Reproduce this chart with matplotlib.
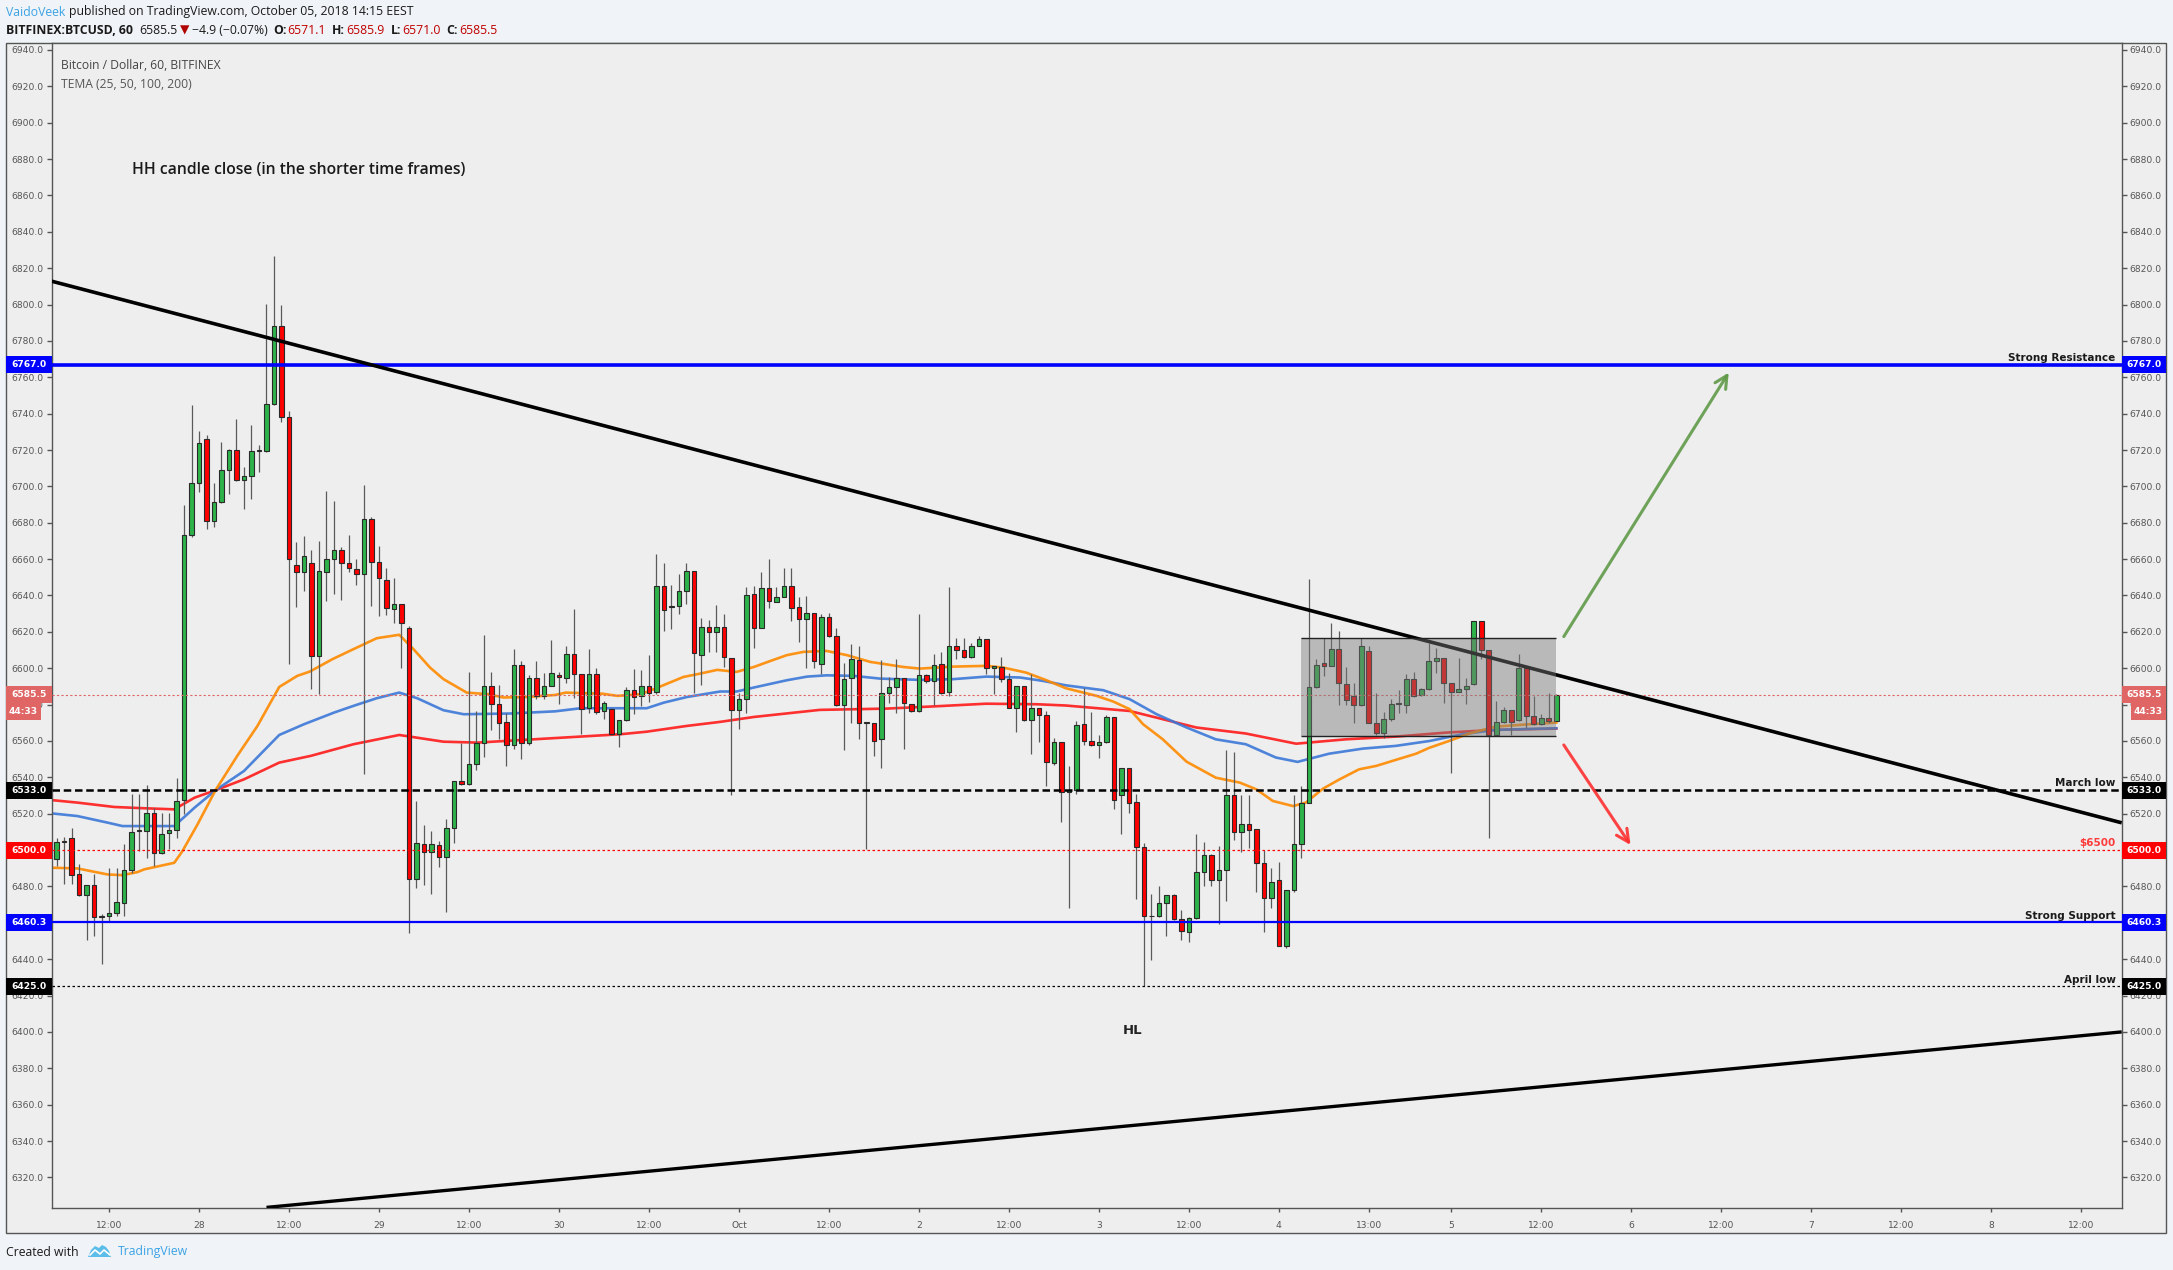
import numpy as np
import matplotlib
matplotlib.use("Agg")
import matplotlib.pyplot as plt
from matplotlib.patches import Rectangle, Polygon
from matplotlib.transforms import blended_transform_factory

# hourly BITFINEX BTCUSD candles, first bar = Sep 27 05:00 (hour -19 from Sep 28 00:00)
first_bar_hour = -19
opens = [6494.9, 6505.0, 6506.4, 6486.6, 6475.1, 6480.7, 6463.3, 6463.5, 6465.3, 6470.7,
         6488.8, 6510.5, 6510.5, 6520.6, 6498.2, 6509.2, 6510.9, 6527.4, 6673.3, 6701.9,
         6726.1, 6681.2, 6691.3, 6709.1, 6720.1, 6703.6, 6705.8, 6719.7, 6719.3, 6745.4,
         6788.3, 6738.4, 6657.0, 6652.7, 6657.9, 6606.5, 6652.7, 6660.1, 6665.0, 6657.9,
         6654.6, 6651.8, 6682.1, 6658.2, 6648.5, 6632.5, 6635.3, 6622.1, 6483.9, 6503.1,
         6498.9, 6502.6, 6496.2, 6512.3, 6537.8, 6536.2, 6547.2, 6559.1, 6590.1, 6580.2,
         6570.3, 6557.8, 6601.7, 6558.7, 6594.5, 6584.9, 6590.1, 6596.2, 6594.9, 6607.7,
         6597.1, 6578.0, 6597.1, 6576.5, 6577.8, 6563.7, 6571.4, 6587.9, 6584.8, 6590.1,
         6587.2, 6645.1, 6633.8, 6634.1, 6642.2, 6653.2, 6607.2, 6622.9, 6620.0, 6622.9,
         6605.9, 6577.1, 6582.9, 6640.7, 6622.0, 6644.0, 6636.5, 6639.1, 6645.1, 6633.4,
         6627.0, 6630.3, 6602.2, 6627.9, 6617.6, 6579.6, 6594.9, 6604.4, 6569.7, 6569.7,
         6560.9, 6586.2, 6589.7, 6594.5, 6580.5, 6576.5, 6596.1, 6593.0, 6602.2, 6587.0,
         6612.1, 6609.9, 6606.2, 6612.1, 6616.0, 6600.1, 6600.7, 6594.0, 6578.0, 6590.1,
         6571.4, 6578.3, 6574.1, 6547.7, 6559.6, 6532.2, 6532.9, 6569.2, 6559.8, 6557.6,
         6559.3, 6573.2, 6530.1, 6545.0, 6526.4, 6501.7, 6463.5, 6463.5, 6470.7, 6475.1,
         6461.9, 6455.1, 6462.4, 6488.1, 6497.1, 6483.3, 6488.8, 6530.1, 6509.9, 6514.5,
         6511.4, 6493.0, 6473.4, 6483.3, 6447.2, 6477.8, 6503.1, 6526.1, 6589.9, 6602.8,
         6601.3, 6610.5, 6591.2, 6584.8, 6579.6, 6609.6, 6570.1, 6564.2, 6571.9, 6580.2,
         6580.0, 6594.0, 6585.1, 6588.5, 6603.9, 6605.5, 6591.8, 6587.0, 6588.8, 6591.2,
         6625.7, 6609.9, 6563.3, 6570.7, 6576.9, 6571.4, 6600.0, 6573.8, 6569.2, 6572.5,
         6571.1]
highs = [6506.8, 6507.0, 6512.3, 6492.1, 6481.0, 6487.0, 6465.0, 6490.3, 6490.3, 6503.1,
         6530.7, 6530.7, 6535.8, 6523.3, 6520.6, 6520.6, 6539.8, 6690.0, 6745.0, 6730.2,
         6728.5, 6701.9, 6724.3, 6720.6, 6737.1, 6710.9, 6733.5, 6723.0, 6800.4, 6826.5,
         6799.5, 6741.2, 6669.2, 6672.5, 6665.2, 6670.2, 6697.3, 6692.2, 6666.9, 6673.5,
         6660.1, 6701.0, 6683.4, 6667.4, 6655.1, 6649.6, 6635.3, 6623.4, 6527.0, 6513.8,
         6510.5, 6505.0, 6517.3, 6537.8, 6559.1, 6598.0, 6576.5, 6618.4, 6598.0, 6590.9,
         6575.6, 6610.7, 6604.0, 6596.4, 6604.0, 6597.6, 6615.6, 6598.0, 6612.3, 6632.5,
         6597.1, 6610.8, 6600.4, 6582.0, 6578.0, 6571.4, 6589.7, 6599.5, 6598.9, 6607.3,
         6662.7, 6657.8, 6645.9, 6651.7, 6658.0, 6653.2, 6627.5, 6626.6, 6634.9, 6629.7,
         6605.9, 6586.6, 6644.8, 6645.3, 6653.0, 6660.0, 6644.8, 6655.2, 6655.2, 6639.3,
         6639.8, 6630.3, 6629.7, 6630.3, 6622.0, 6603.1, 6613.2, 6612.3, 6570.0, 6570.0,
         6604.6, 6595.2, 6605.3, 6594.5, 6580.5, 6629.7, 6596.7, 6607.7, 6609.0, 6644.8,
         6616.9, 6616.9, 6614.1, 6617.8, 6616.0, 6601.3, 6606.2, 6597.6, 6590.1, 6590.1,
         6597.1, 6578.4, 6576.5, 6561.8, 6559.6, 6546.3, 6571.0, 6589.4, 6576.0, 6563.3,
         6574.3, 6573.2, 6545.0, 6545.0, 6530.7, 6504.0, 6475.6, 6480.2, 6475.1, 6475.6,
         6466.8, 6463.1, 6509.0, 6504.6, 6498.0, 6502.2, 6554.9, 6554.0, 6530.1, 6530.1,
         6511.4, 6499.8, 6489.9, 6493.4, 6477.8, 6530.1, 6535.2, 6649.0, 6605.0, 6616.5,
         6625.0, 6620.6, 6600.7, 6591.8, 6616.5, 6612.1, 6586.3, 6576.0, 6583.3, 6587.9,
         6597.1, 6598.0, 6589.4, 6614.1, 6611.0, 6605.5, 6592.1, 6605.9, 6594.5, 6625.7,
         6625.7, 6609.9, 6582.0, 6578.9, 6576.9, 6607.7, 6600.0, 6584.8, 6574.7, 6586.3,
         6585.9]
lows = [6491.2, 6481.5, 6481.5, 6475.0, 6450.3, 6452.7, 6437.1, 6460.9, 6464.0, 6464.0,
        6487.5, 6499.5, 6495.8, 6491.2, 6498.0, 6500.4, 6506.8, 6520.0, 6672.0, 6696.8,
        6676.4, 6677.9, 6691.0, 6695.9, 6703.0, 6687.4, 6693.0, 6707.8, 6719.0, 6745.0,
        6735.3, 6602.6, 6633.5, 6642.6, 6588.5, 6585.8, 6636.8, 6640.8, 6637.5, 6653.1,
        6645.8, 6542.0, 6634.0, 6628.9, 6629.4, 6624.7, 6600.4, 6454.5, 6479.3, 6480.6,
        6475.6, 6490.7, 6466.1, 6504.1, 6535.6, 6536.0, 6544.1, 6551.4, 6566.1, 6560.9,
        6546.4, 6555.4, 6550.3, 6558.0, 6583.3, 6583.3, 6590.0, 6580.6, 6592.1, 6583.8,
        6564.0, 6575.6, 6574.7, 6572.3, 6563.5, 6556.9, 6571.0, 6574.7, 6579.3, 6581.5,
        6585.7, 6620.5, 6621.8, 6629.7, 6635.2, 6586.6, 6590.6, 6609.2, 6609.2, 6600.9,
        6530.1, 6566.4, 6575.2, 6611.0, 6622.0, 6633.0, 6636.5, 6639.0, 6625.7, 6614.7,
        6600.4, 6600.4, 6597.1, 6617.0, 6579.0, 6555.2, 6570.1, 6561.3, 6500.4, 6551.7,
        6545.3, 6581.1, 6575.6, 6555.8, 6576.0, 6576.0, 6592.1, 6579.6, 6585.7, 6584.8,
        6605.3, 6605.5, 6605.9, 6612.0, 6596.7, 6585.7, 6592.7, 6577.9, 6565.1, 6571.0,
        6552.7, 6559.6, 6535.2, 6547.0, 6515.6, 6468.3, 6530.7, 6557.6, 6557.0, 6550.8,
        6559.0, 6522.4, 6508.6, 6520.6, 6472.9, 6425.2, 6439.8, 6463.0, 6452.7, 6461.7,
        6450.3, 6449.6, 6462.0, 6480.2, 6480.2, 6459.5, 6471.9, 6505.3, 6499.1, 6500.9,
        6477.1, 6455.1, 6468.3, 6447.0, 6445.9, 6477.0, 6495.4, 6526.0, 6589.0, 6595.8,
        6601.0, 6579.6, 6579.8, 6570.1, 6579.0, 6570.0, 6563.3, 6561.5, 6571.0, 6575.6,
        6575.6, 6584.0, 6585.0, 6588.0, 6597.6, 6581.1, 6542.6, 6587.0, 6580.6, 6591.0,
        6605.0, 6506.8, 6563.0, 6570.0, 6563.3, 6571.0, 6567.4, 6569.0, 6569.0, 6570.1,
        6571.0]
closes = [6504.6, 6504.6, 6486.1, 6475.1, 6480.7, 6463.3, 6463.4, 6465.5, 6471.2, 6488.8,
          6510.1, 6510.6, 6520.6, 6498.6, 6509.0, 6510.9, 6527.0, 6673.3, 6701.9, 6724.1,
          6681.2, 6691.3, 6709.1, 6720.1, 6703.6, 6705.8, 6719.2, 6719.8, 6745.4, 6788.3,
          6738.4, 6660.1, 6652.7, 6661.9, 6606.5, 6653.5, 6660.1, 6665.0, 6657.9, 6654.9,
          6651.8, 6682.1, 6658.2, 6649.6, 6633.1, 6635.3, 6624.8, 6483.9, 6504.0, 6498.9,
          6503.5, 6496.2, 6512.3, 6537.8, 6536.2, 6547.2, 6559.1, 6590.1, 6580.2, 6569.7,
          6557.8, 6601.7, 6558.7, 6594.5, 6584.8, 6590.1, 6597.3, 6595.2, 6607.7, 6597.1,
          6577.4, 6597.1, 6576.0, 6580.7, 6563.7, 6571.4, 6587.9, 6584.2, 6590.1, 6586.6,
          6645.1, 6631.9, 6633.9, 6642.2, 6653.2, 6608.6, 6622.9, 6620.0, 6622.9, 6606.2,
          6577.1, 6582.9, 6640.2, 6622.4, 6644.0, 6637.1, 6639.1, 6645.1, 6633.0, 6627.0,
          6630.6, 6604.0, 6627.9, 6617.6, 6579.6, 6593.9, 6604.9, 6569.7, 6569.8, 6560.0,
          6586.2, 6589.7, 6594.5, 6580.7, 6576.5, 6596.1, 6593.0, 6601.6, 6586.2, 6612.1,
          6609.9, 6606.2, 6612.1, 6616.0, 6600.4, 6601.1, 6594.0, 6578.0, 6590.1, 6571.4,
          6578.0, 6574.1, 6548.4, 6559.6, 6532.1, 6532.9, 6568.6, 6559.8, 6557.6, 6559.3,
          6573.2, 6527.4, 6545.0, 6525.7, 6501.7, 6463.5, 6463.6, 6470.7, 6475.1, 6461.9,
          6455.4, 6462.4, 6488.1, 6497.1, 6483.3, 6488.8, 6530.1, 6509.9, 6514.5, 6510.8,
          6493.0, 6473.4, 6482.6, 6447.2, 6477.8, 6503.1, 6526.1, 6589.9, 6601.9, 6601.3,
          6610.5, 6591.8, 6582.4, 6579.6, 6612.1, 6570.1, 6564.2, 6571.9, 6580.6, 6580.8,
          6594.0, 6584.8, 6588.5, 6603.9, 6605.5, 6591.8, 6587.0, 6588.8, 6590.1, 6625.7,
          6609.9, 6563.3, 6570.7, 6576.9, 6570.7, 6600.0, 6573.8, 6569.2, 6572.5, 6571.0,
          6585.5]

# TEMA lines (hour, price)
tema_orange_h = [-19.7, -16.2, -12.2, -10.2, -8.2, -7.3, -5.3, -3.3, -2.2, -0.2, 2.2, 5.1, 7.8,
                 10.7, 13.1, 14.8, 17.8, 20.6, 23.7, 26.7, 28.6, 30.8, 32.6, 35.7, 38.6, 40.6,
                 43.7, 47.5, 48.9, 53.8, 55.8, 58.9, 60.6, 64.6, 66.9, 69.1, 71.7, 74.0, 76.2,
                 78.4, 80.6, 83.7, 86.4, 89.5, 93.9, 96.1, 100.6, 105.0, 107.2, 110.3, 113.0,
                 115.6, 119.7, 121.9, 124.1, 125.9, 128.5, 131.7, 135.6, 138.8, 141.0, 143.2,
                 145.9, 147.6, 149.9, 152.1, 154.7, 157.0, 159.6, 162.3, 164.1, 166.7, 169.4,
                 172.9, 177.4, 181.0]
tema_orange_p = [6490.3, 6489.9, 6486.6, 6486.2, 6487.9, 6489.4, 6491.2, 6493.0, 6499.5, 6514.1,
                 6532.9, 6551.8, 6568.3, 6589.7, 6595.8, 6598.2, 6605.0, 6610.5, 6616.5, 6618.4,
                 6610.5, 6600.4, 6594.0, 6586.6, 6585.7, 6583.9, 6584.2, 6585.3, 6586.6, 6586.0,
                 6584.8, 6585.7, 6588.4, 6595.2, 6597.1, 6599.1, 6598.0, 6600.7, 6604.0, 6607.2,
                 6609.0, 6609.5, 6607.2, 6603.5, 6600.7, 6599.8, 6600.9, 6601.3, 6600.4, 6597.6,
                 6593.4, 6589.0, 6584.8, 6581.7, 6577.5, 6569.2, 6561.0, 6548.6, 6539.8, 6537.1,
                 6533.4, 6527.0, 6524.2, 6526.1, 6533.8, 6538.9, 6544.4, 6546.3, 6549.6, 6553.0,
                 6556.3, 6560.0, 6564.1, 6567.9, 6569.2, 6570.1]
tema_blue_h = [-19.7, -16.2, -12.2, -10.2, -7.3, -3.3, -0.6, 2.2, 6.0, 10.7, 14.0, 18.0, 20.6,
               23.7, 26.7, 29.1, 32.6, 35.3, 41.5, 47.5, 50.9, 59.7, 62.0, 65.1, 69.5, 71.7,
               74.0, 78.4, 81.1, 83.7, 87.3, 90.8, 96.1, 100.6, 105.0, 109.5, 112.6, 115.6,
               120.6, 124.1, 127.7, 131.7, 135.6, 139.6, 143.6, 146.5, 150.7, 155.2, 159.6,
               164.1, 168.5, 172.9, 181.0]
tema_blue_p = [6520.2, 6518.7, 6515.1, 6513.2, 6513.2, 6513.2, 6523.3, 6532.9, 6543.5, 6563.3,
               6569.2, 6575.6, 6579.3, 6583.5, 6586.6, 6583.5, 6576.9, 6574.7, 6575.1, 6576.3,
               6578.0, 6578.0, 6581.1, 6584.2, 6587.2, 6587.2, 6589.4, 6593.4, 6595.4, 6596.1,
               6595.8, 6594.3, 6593.6, 6594.0, 6595.4, 6594.9, 6593.0, 6590.6, 6587.9, 6583.0,
               6574.7, 6567.4, 6560.9, 6558.2, 6550.9, 6548.5, 6553.0, 6555.8, 6557.3, 6560.0,
               6563.7, 6566.1, 6567.0]
tema_red_h = [-19.7, -16.2, -11.3, -7.3, -3.3, -0.6, 2.2, 6.0, 10.7, 14.9, 20.6, 26.7, 32.6,
              37.1, 47.5, 56.2, 59.7, 65.1, 69.5, 74.0, 82.8, 91.7, 98.4, 105.0, 111.7, 115.6,
              124.1, 133.0, 139.6, 146.3, 152.9, 159.6, 166.3, 172.9, 181.0]
tema_red_p = [6527.5, 6526.1, 6523.7, 6523.0, 6522.4, 6528.8, 6532.9, 6538.9, 6548.1, 6551.8,
              6558.2, 6563.3, 6559.6, 6559.1, 6561.6, 6563.7, 6565.1, 6568.3, 6570.5, 6573.2,
              6577.1, 6577.8, 6579.1, 6580.5, 6580.2, 6579.5, 6576.5, 6567.4, 6564.1, 6558.5,
              6560.9, 6562.4, 6564.6, 6566.1, 6566.8]

# drawings
level_prices = [6767.0, 6533.0, 6500.0, 6460.3, 6425.0]
level_names = ["Strong Resistance", "March low", "$6500", "Strong Support", "April low"]
last_price = 6585.5
down_trend_h = [-19.7, 256.4]
down_trend_p = [6812.9, 6515.0]
up_trend_h = [9.0, 256.4]
up_trend_p = [6303.5, 6400.0]
range_box_h = [147.0, 180.9]
range_box_p = [6562.9, 6616.4]
bull_arrow = [(182.0, 6617.4), (204.0, 6762.6)]
bear_arrow = [(182.0, 6557.8), (190.9, 6502.8)]

time_ticks = [-12, 0, 12, 24, 36, 48, 60, 72, 84, 96, 108, 120, 132, 144, 156, 167, 179,
              191, 203, 215, 227, 239, 251]
time_labels = ["12:00", "28", "12:00", "29", "12:00", "30", "12:00", "Oct", "12:00", "2",
               "12:00", "3", "12:00", "4", "13:00", "5", "12:00", "6", "12:00", "7",
               "12:00", "8", "12:00"]

W, H = 2173, 1270
AX_L, AX_R, AX_T, AX_B = 51.5, 2121.7, 42.7, 1208.3
UP = "#2db34a"
DOWN = "#ff0000"
AXC = "#555555"
UI_FONT = ["Open Sans", "DejaVu Sans"]


def fx(px):
    return px / W


def fy(py):
    return 1 - py / H


fig = plt.figure(figsize=(W / 100, H / 100), dpi=100, facecolor="#f0f3f7")
fig.patches.append(Rectangle((fx(6), fy(1233)), fx(2166) - fx(6), fy(42.7) - fy(1233),
                             transform=fig.transFigure, fc="#eeeeee", ec=AXC, lw=1, zorder=-5))
ax = fig.add_axes([fx(AX_L), fy(AX_B), fx(AX_R) - fx(AX_L), fy(AX_T) - fy(AX_B)])
ax.set_zorder(1)
ax.set_facecolor("#eeeeee")
ax.set_xlim(-19.67, 256.4)
ax.set_ylim(6303, 6944)
for s in ax.spines.values():
    s.set_color(AXC)
    s.set_linewidth(1)

yt = np.arange(6320, 6941, 20)
ax.set_yticks(yt)
ax.set_yticklabels([f"{v:.1f}" for v in yt])
ax.tick_params(axis="y", which="both", left=True, right=True, labelleft=True, labelright=True,
               direction="out", length=3.5, width=1, color=AXC, labelsize=6.6,
               labelcolor=AXC, pad=2)
ax.set_xticks(time_ticks)
ax.set_xticklabels(time_labels)
ax.tick_params(axis="x", direction="out", length=3, width=1, color=AXC, labelsize=6.6,
               labelcolor=AXC, pad=6)

# TEMA lines
ax.plot(tema_red_h, tema_red_p, color="#ff1a1a", lw=1.9, alpha=0.9, zorder=2)
ax.plot(tema_blue_h, tema_blue_p, color="#3c78d8", lw=1.9, alpha=0.9, zorder=2)
ax.plot(tema_orange_h, tema_orange_p, color="#ff8a00", lw=1.9, alpha=0.9, zorder=2)

# candles
bar_h = np.arange(len(opens)) + first_bar_hour
for h, o, hi, lo, c in zip(bar_h, opens, highs, lows, closes):
    ax.vlines(h, lo, hi, color="#5a5a5a", lw=0.9, zorder=3)
    bottom = min(o, c)
    height = max(abs(c - o), 0.5)
    ax.add_patch(Rectangle((h - 0.31, bottom), 0.62, height, fc=UP if c >= o else DOWN,
                           ec="#2a2a2a", lw=0.8, zorder=3.5))

# horizontal levels
ax.axhline(level_prices[0], color="#0000ff", lw=2.6, zorder=4)
ax.axhline(level_prices[1], color="#000000", lw=1.8, ls=(0, (3, 1.5)), zorder=4)
ax.axhline(level_prices[2], color="#ff0000", lw=0.9, ls=(0, (2, 2)), zorder=4)
ax.axhline(level_prices[3], color="#0000ff", lw=1.6, zorder=4)
ax.axhline(level_prices[4], color="#000000", lw=0.9, ls=(0, (2, 2)), zorder=4)
ax.axhline(last_price, color="#e06666", lw=0.8, ls=(0, (2, 2)), zorder=4)

for p, name in zip(level_prices, level_names):
    col = "#ff3b3b" if name.startswith("$") else "#1a1a1a"
    ax.text(255.6, p + 0.9, name, ha="right", va="bottom", fontsize=7.5, fontweight="bold",
            color=col, zorder=6)

# trend lines
ax.plot(down_trend_h, down_trend_p, color="#000000", lw=2.6, zorder=4, solid_capstyle="butt")
ax.plot(up_trend_h, up_trend_p, color="#000000", lw=2.4, zorder=4, solid_capstyle="butt")

# consolidation box
ax.add_patch(Rectangle((range_box_h[0], range_box_p[0]), range_box_h[1] - range_box_h[0],
                       range_box_p[1] - range_box_p[0], fc="#7a7a7a", alpha=0.45,
                       ec="none", zorder=5))
ax.hlines(range_box_p, range_box_h[0], range_box_h[1], color="#222222", lw=1, zorder=5.1)

# arrows
ax.annotate("", xy=bull_arrow[1], xytext=bull_arrow[0],
            arrowprops=dict(arrowstyle="->,head_length=0.9,head_width=0.45", color="#5f9a48",
                            lw=2.2, alpha=0.9, shrinkA=0, shrinkB=0), zorder=6)
ax.annotate("", xy=bear_arrow[1], xytext=bear_arrow[0],
            arrowprops=dict(arrowstyle="->,head_length=0.9,head_width=0.45", color="#ff3030",
                            lw=2.2, alpha=0.9, shrinkA=0, shrinkB=0), zorder=6)

# annotations
ax.text(-8.9, 6874.1, "HH candle close (in the shorter time frames)", ha="left", va="center",
        fontsize=11.3, family=UI_FONT, fontweight="semibold", color="#1a1a1a", zorder=6)
ax.text(124.5, 6400.7, "HL", ha="center", va="center", fontsize=9.5, fontweight="bold",
        color="#222222", zorder=6)
ax.text(0.0045, 0.986, "Bitcoin / Dollar, 60, BITFINEX", transform=ax.transAxes,
        ha="left", va="top", fontsize=8.7, family=UI_FONT, color="#444444")
ax.text(0.0045, 0.970, "TEMA (25, 50, 100, 200)", transform=ax.transAxes, ha="left", va="top",
        fontsize=8.7, family=UI_FONT, color="#555555")

# price boxes on both axes
tr = blended_transform_factory(ax.transAxes, ax.transData)
axw = AX_R - AX_L
box_h = 17 / 1.818
boxes = [(level_prices[0], "#0000ff"), (last_price, "#e06666"), (level_prices[1], "#000000"),
         (level_prices[2], "#ff0000"), (level_prices[3], "#0000ff"), (level_prices[4], "#000000")]
for p, col in boxes:
    for x0, w in [(1.0, 44.3 / axw), (-45.5 / axw, 45.5 / axw)]:
        ax.add_patch(Rectangle((x0, p - box_h / 2), w, box_h, transform=tr, fc=col, ec="none",
                               clip_on=False, zorder=10))
        ax.text(x0 + w / 2, p, f"{p:.1f}", transform=tr, ha="center", va="center",
                fontsize=6.6, fontweight="bold", color="white", clip_on=False, zorder=11)
timer_p = last_price - 17.3 / 1.818
for x0, w in [(1.0 + 9.3 / axw, 35 / axw), (-45.5 / axw, 35 / axw)]:
    ax.add_patch(Rectangle((x0, timer_p - box_h / 2), w, box_h, transform=tr, fc="#e06666",
                           ec="none", clip_on=False, zorder=10))
    ax.text(x0 + w / 2, timer_p, "44:33", transform=tr, ha="center", va="center", fontsize=6.6,
            fontweight="bold", color="white", clip_on=False, zorder=11)

# header and footer
renderer = fig.canvas.get_renderer()


def seq_text(x_px, y_px, parts, size=8.8):
    x = x_px
    for s, col, wt, gap in parts:
        t = fig.text(fx(x), fy(y_px), s, color=col, fontweight=wt, fontsize=size,
                     family=UI_FONT, ha="left", va="center")
        x += t.get_window_extent(renderer).width + gap


seq_text(6, 12, [("VaidoVeek", "#3ba3e6", "normal", 4),
                 ("published on TradingView.com, October 05, 2018 14:15 EEST", "#1a1a1a",
                  "normal", 0)])
seq_text(6, 30, [("BITFINEX:BTCUSD, 60", "#1a1a1a", "bold", 6),
                 ("6585.5", "#1a1a1a", "normal", 3),
                 ("\u25bc", "#b00000", "normal", 2),
                 ("\u22124.9 (\u22120.07%)", "#1a1a1a", "normal", 6),
                 ("O:", "#1a1a1a", "bold", 1), ("6571.1", "#c00000", "normal", 6),
                 ("H:", "#1a1a1a", "bold", 1), ("6585.9", "#c00000", "normal", 6),
                 ("L:", "#1a1a1a", "bold", 1), ("6571.0", "#c00000", "normal", 6),
                 ("C:", "#1a1a1a", "bold", 1), ("6585.5", "#c00000", "normal", 0)])

fig.text(fx(6), fy(1252), "Created with", fontsize=8.8, family=UI_FONT,
         color="#1a1a1a", ha="left", va="center")
logo = [(88, 1257), (91, 1250), (95, 1246), (99, 1248), (102, 1245), (106, 1247), (109, 1251),
        (111, 1257)]
fig.patches.append(Polygon([(fx(a), fy(b)) for a, b in logo], closed=True,
                           transform=fig.transFigure, fc="#5bbde9", ec="none"))
fig.lines.append(plt.Line2D([fx(90), fx(95), fx(100), fx(104), fx(110)],
                            [fy(1255), fy(1250), fy(1254), fy(1250), fy(1255)],
                            transform=fig.transFigure, color="white", lw=1.2))
fig.text(fx(118), fy(1252), "TradingView", fontsize=8.8, family=UI_FONT,
         color="#3ba3e6", ha="left", va="center")

fig.savefig("out.png", dpi=100, facecolor=fig.get_facecolor())
